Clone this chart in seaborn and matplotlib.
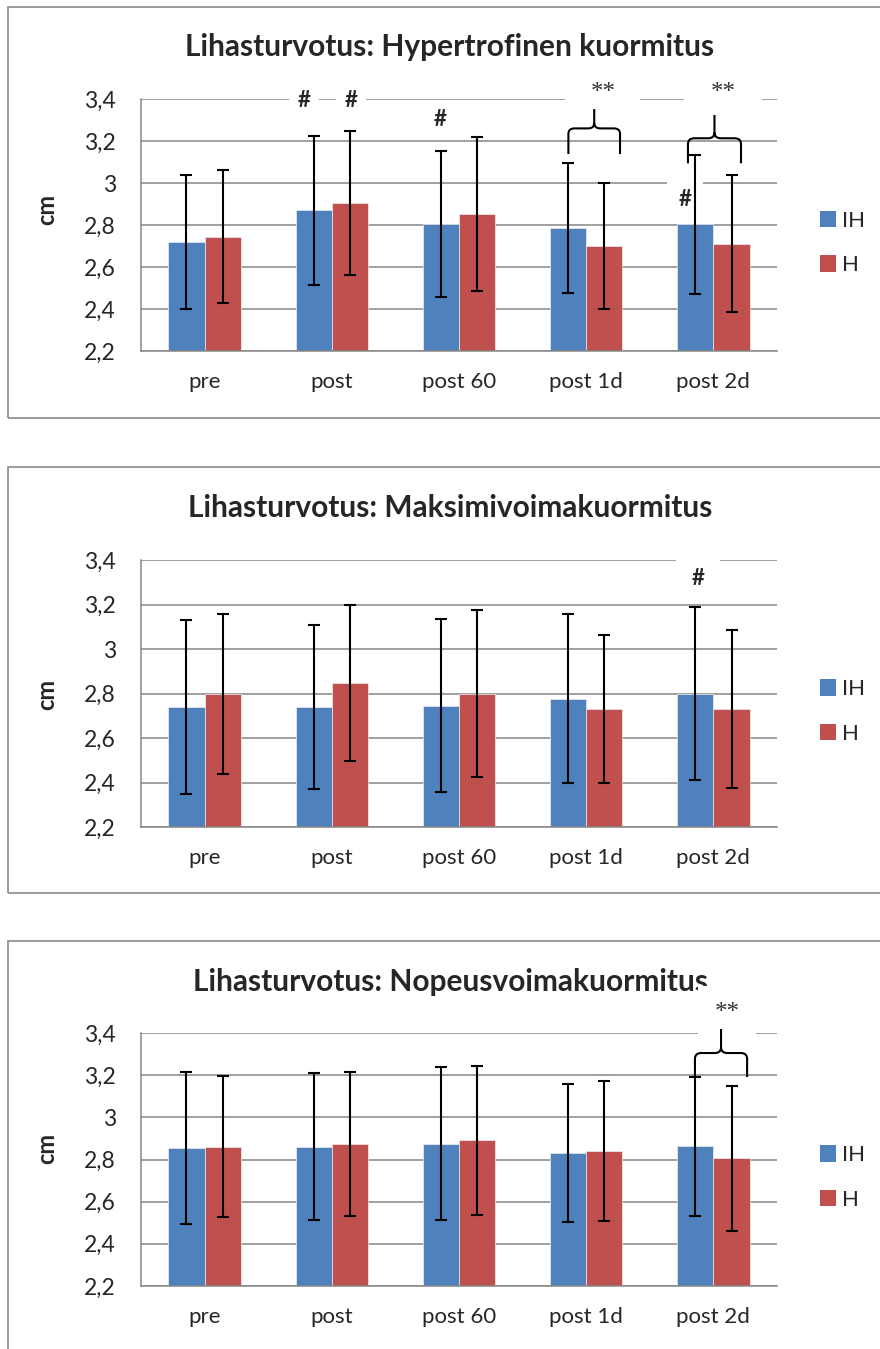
import numpy as np
import pandas as pd
import matplotlib
matplotlib.use('Agg')
import matplotlib.pyplot as plt
from matplotlib.patches import Rectangle, Patch, PathPatch
from matplotlib.path import Path
import seaborn as sns

# Daten
zeitpunkte = ['pre', 'post', 'post 60', 'post 1d', 'post 2d']
gruppen = ['IH', 'H']
farben = ['#4F81BD', '#C0504D']

titel = ['Lihasturvotus: Hypertrofinen kuormitus',
         'Lihasturvotus: Maksimivoimakuormitus',
         'Lihasturvotus: Nopeusvoimakuormitus']

# Hypertrofinen kuormitus
hyp_ih = [2.72, 2.87, 2.805, 2.787, 2.803]
hyp_h = [2.745, 2.905, 2.854, 2.70, 2.71]
hyp_ih_sd = [0.32, 0.356, 0.347, 0.31, 0.33]
hyp_h_sd = [0.315, 0.343, 0.366, 0.30, 0.326]

# Maksimivoimakuormitus
mak_ih = [2.739, 2.739, 2.746, 2.777, 2.80]
mak_h = [2.798, 2.846, 2.80, 2.73, 2.73]
mak_ih_sd = [0.39, 0.37, 0.39, 0.38, 0.39]
mak_h_sd = [0.358, 0.35, 0.377, 0.333, 0.355]

# Nopeusvoimakuormitus
nop_ih = [2.853, 2.861, 2.875, 2.829, 2.863]
nop_h = [2.86, 2.874, 2.891, 2.839, 2.806]
nop_ih_sd = [0.36, 0.35, 0.363, 0.327, 0.33]
nop_h_sd = [0.335, 0.342, 0.352, 0.333, 0.344]

panels = [
    (hyp_ih, hyp_h, hyp_ih_sd, hyp_h_sd),
    (mak_ih, mak_h, mak_ih_sd, mak_h_sd),
    (nop_ih, nop_h, nop_ih_sd, nop_h_sd),
]

# Merkinnät: (teksti, x, y, pad)
risuaidat = [
    [('#', 1 - 0.219, 3.395, 0.4), ('#', 1 + 0.151, 3.395, 0.4),
     ('#', 2 - 0.149, 3.30, 0.25), ('#', 4 - 0.223, 2.92, 0.5)],
    [('#', 4 - 0.121, 3.319, 0.7)],
    [],
]
tahdet = [
    [(3 + 0.132, 3.429, 1.0), (4 + 0.075, 3.429, 1.05)],
    [],
    [(4 + 0.107, 3.495, 0.65)],
]
# Aaltosulkeet: (x0, x1, jalka, keski, karki)
sulkeet = [
    [(3 - 0.14, 3 + 0.266, 3.138, 3.26, 3.352),
     (4 - 0.2, 4 + 0.217, 3.094, 3.213, 3.324)],
    [],
    [(4 - 0.145, 4 + 0.265, 3.191, 3.305, 3.419)],
]

# Asettelu (pikseleinä)
W, H = 880, 1349
akselit_y = [(99, 351), (560, 827), (1033, 1286)]
otsikko_y = [47, 508, 982]
cm_y = [209, 694, 1148]
laatikot = [(7, 418), (467, 893), (941, 1400)]

sns.set_style('white')
plt.rcParams['font.family'] = ['Lato', 'DejaVu Sans']

fig = plt.figure(figsize=(W / 100, H / 100), dpi=100)

harmaa = '#868686'


def sulje(ax, x0, x1, yl, ym, yt):
    xc = (x0 + x1) / 2
    rx = (x1 - x0) * 0.12
    ry = (yt - yl) * 0.12
    verts = [(x0, yl), (x0, ym - ry), (x0, ym), (x0 + rx, ym),
             (xc - rx, ym), (xc, ym), (xc, ym + ry), (xc, yt),
             (xc, ym + ry), (xc, ym), (xc + rx, ym),
             (x1 - rx, ym), (x1, ym), (x1, ym - ry), (x1, yl)]
    codes = [Path.MOVETO, Path.LINETO, Path.CURVE3, Path.CURVE3,
             Path.LINETO, Path.CURVE3, Path.CURVE3, Path.LINETO,
             Path.MOVETO, Path.CURVE3, Path.CURVE3,
             Path.LINETO, Path.CURVE3, Path.CURVE3, Path.LINETO]
    ax.add_patch(PathPatch(Path(verts, codes), fill=False, lw=1.5,
                           color='black', zorder=6, clip_on=False))


for i, (ih, h, ih_sd, h_sd) in enumerate(panels):
    top, bottom = akselit_y[i]
    ax = fig.add_axes([141 / W, 1 - bottom / H, 636 / W, (bottom - top) / H])
    ax.patch.set_alpha(0)

    df = pd.DataFrame({
        'aika': zeitpunkte * 2,
        'ryhma': ['IH'] * 5 + ['H'] * 5,
        'arvo': ih + h,
    })
    sns.barplot(data=df, x='aika', y='arvo', hue='ryhma', hue_order=gruppen,
                palette=farben, width=0.57, gap=0, errorbar=None,
                saturation=1, legend=False, ax=ax,
                edgecolor='#eeeeee', linewidth=0.5, zorder=2)

    # Hajontapalkit
    for cont, sds in zip(ax.containers, [ih_sd, h_sd]):
        for bar, sd in zip(cont, sds):
            x = bar.get_x() + bar.get_width() / 2
            ax.errorbar(x, bar.get_height(), yerr=sd, fmt='none',
                        ecolor='black', elinewidth=1.5, capsize=4,
                        capthick=1.5, zorder=5)

    ax.set_ylim(2.2, 3.4)
    ax.set_xlim(-0.5, 4.5)
    yt = np.round(np.arange(2.2, 3.41, 0.2), 1)
    ax.set_yticks(yt)
    ax.set_yticklabels([('%g' % v).replace('.', ',') for v in yt],
                       fontsize=16.5)
    ax.tick_params(axis='y', length=6, width=1, color=harmaa, pad=12)
    ax.tick_params(axis='x', length=0, pad=15, labelsize=16)
    ax.set_xlabel('')
    ax.set_ylabel('')
    ax.grid(axis='y', color=harmaa, lw=1.1)
    ax.set_axisbelow(True)
    for s in ['top', 'right']:
        ax.spines[s].set_visible(False)
    for s in ['left', 'bottom']:
        ax.spines[s].set_color(harmaa)
        ax.spines[s].set_linewidth(1.1)

    for teksti, x, y, pad in risuaidat[i]:
        ax.text(x, y, teksti, ha='center', va='center', fontsize=16,
                fontweight='bold', zorder=4, clip_on=False,
                bbox=dict(boxstyle='square,pad=%g' % pad, fc='white',
                          ec='none'))
    for x, y, pad in tahdet[i]:
        ax.text(x, y, '**', ha='center', va='center', fontsize=18,
                family='Liberation Serif', color='#333333', zorder=4,
                clip_on=False,
                bbox=dict(boxstyle='square,pad=%g' % pad, fc='white',
                          ec='none'))
    for s in sulkeet[i]:
        sulje(ax, *s)

    # Selite
    kahvat = [Patch(facecolor=c, edgecolor='none') for c in farben]
    ax.legend(kahvat, gruppen, loc='center left',
              bbox_to_anchor=(820 / W, 1 - ((top + bottom) / 2 + 18) / H),
              bbox_transform=fig.transFigure, frameon=False, fontsize=16,
              handlelength=0.7, handleheight=0.75, handletextpad=0.3,
              labelspacing=1.1, borderpad=0, borderaxespad=0)

    fig.text(450 / W, 1 - otsikko_y[i] / H, titel[i], ha='center',
             va='center', fontsize=21.5, fontweight='bold', zorder=-1)
    fig.text(47 / W, 1 - cm_y[i] / H, 'cm', rotation=90, ha='center',
             va='center', fontsize=17, fontweight='bold')

    y0, y1 = laatikot[i]
    fig.add_artist(Rectangle((8 / W, 1 - y1 / H), 1.0, (y1 - y0) / H,
                             transform=fig.transFigure, fill=False,
                             ec='#8a8a8a', lw=1.2, zorder=-2))

fig.savefig('out.png', dpi=100, facecolor='white')
